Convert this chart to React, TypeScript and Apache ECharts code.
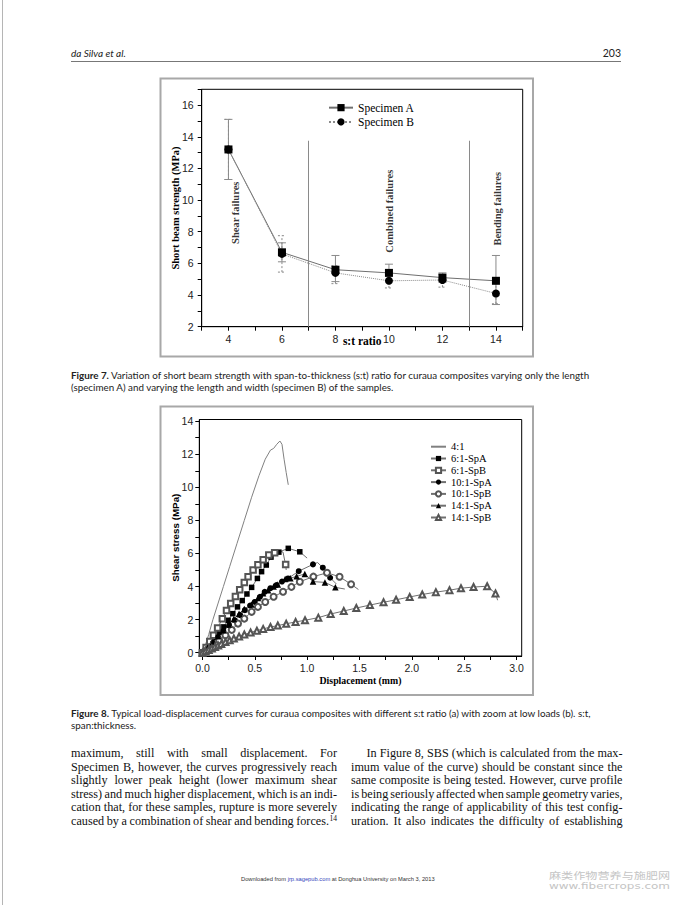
import React, { useEffect, useRef } from 'react';
import * as echarts from 'echarts';

// ---------- Figure 7 data ----------
const fig7Ratios = [4, 6, 8, 10, 12, 14];
const fig7SpecimenA = [13.2, 6.7, 5.6, 5.4, 5.1, 4.9];
const fig7SpecimenB = [13.2, 6.6, 5.4, 4.9, 4.95, 4.1];
const fig7ErrALow = [11.3, 6.1, 4.85, 4.9, 4.8, 3.4];
const fig7ErrAHigh = [15.1, 7.3, 6.5, 5.95, 5.4, 6.5];
const fig7ErrBLow = [11.3, 5.45, 4.72, 4.45, 4.5, 3.45];
const fig7ErrBHigh = [15.1, 7.75, 5.85, 5.4, 5.32, 4.8];
const fig7XTicks = [3, 4, 5, 6, 7, 8, 9, 10, 11, 12, 13, 14, 15];
const fig7XLabels = [4, 6, 8, 10, 12, 14];
const fig7YTicks = [2, 3, 4, 5, 6, 7, 8, 9, 10, 11, 12, 13, 14, 15, 16, 17];
const fig7YLabels = [2, 4, 6, 8, 10, 12, 14, 16];
const fig7Dividers = [7, 13];
const fig7Regions = ['Shear failures', 'Combined failures', 'Bending failures'];
const fig7Names = ['Specimen A', 'Specimen B'];

// ---------- Figure 8 data ----------
const fig8Names = ['4:1', '6:1-SpA', '6:1-SpB', '10:1-SpA', '10:1-SpB', '14:1-SpA', '14:1-SpB'];
const fig8Curve4 = [[0, 0], [0.03, 0.5], [0.06, 1.1], [0.1, 2.0], [0.15, 3.0], [0.2, 4.0], [0.26, 5.2], [0.33, 6.6], [0.4, 8.0], [0.47, 9.4], [0.54, 10.7], [0.6, 11.7], [0.65, 12.25], [0.68, 12.35], [0.71, 12.6], [0.74, 12.8], [0.76, 12.6], [0.78, 11.7], [0.8, 10.9], [0.82, 10.15]];
const fig8Curve6A = [[0, 0], [0.04, 0.28], [0.08, 0.6], [0.12, 0.92], [0.16, 1.24], [0.2, 1.56], [0.245, 1.96], [0.29, 2.36], [0.335, 2.77], [0.38, 3.15], [0.425, 3.55], [0.47, 3.95], [0.525, 4.49], [0.565, 4.9], [0.61, 5.3], [0.655, 5.78], [0.73, 6.08], [0.82, 6.31], [0.93, 6.1], [1.0, 5.72]];
const fig8Plain6A = [1.0];
const fig8Curve6B = [[0, 0], [0.035, 0.32], [0.07, 0.68], [0.105, 1.05], [0.145, 1.5], [0.19, 2.05], [0.23, 2.55], [0.27, 2.97], [0.315, 3.4], [0.356, 3.8], [0.4, 4.25], [0.436, 4.59], [0.484, 5.0], [0.53, 5.32], [0.58, 5.62], [0.634, 5.9], [0.69, 6.05], [0.75, 6.12], [0.77, 6.08], [0.785, 5.6], [0.795, 5.34], [0.8, 5.0]];
const fig8Plain6B = [0.75, 0.77, 0.785, 0.8];
const fig8Curve10A = [[0, 0], [0.05, 0.25], [0.1, 0.6], [0.15, 0.95], [0.2, 1.3], [0.255, 1.65], [0.31, 1.96], [0.36, 2.27], [0.405, 2.57], [0.455, 2.85], [0.5, 3.07], [0.55, 3.38], [0.595, 3.68], [0.65, 3.9], [0.707, 4.09], [0.76, 4.3], [0.818, 4.49], [0.92, 4.93], [1.056, 5.34], [1.1, 5.45], [1.15, 5.14], [1.22, 4.53], [1.28, 4.15]];
const fig8Plain10A = [1.1, 1.28];
const fig8Curve10B = [[0, 0], [0.05, 0.2], [0.1, 0.45], [0.16, 0.75], [0.22, 1.05], [0.28, 1.38], [0.34, 1.76], [0.4, 2.06], [0.47, 2.47], [0.53, 2.77], [0.6, 3.07], [0.68, 3.38], [0.77, 3.68], [0.85, 3.98], [0.93, 4.29], [1.06, 4.6], [1.19, 4.83], [1.31, 4.59], [1.42, 4.14], [1.49, 3.82]];
const fig8Plain10B = [1.49];
const fig8Curve14A = [[0, 0], [0.05, 0.3], [0.1, 0.65], [0.15, 1.0], [0.2, 1.35], [0.25, 1.7], [0.3, 2.03], [0.35, 2.36], [0.4, 2.64], [0.468, 2.91], [0.53, 3.3], [0.58, 3.6], [0.627, 3.78], [0.68, 4.0], [0.72, 4.12], [0.79, 4.45], [0.84, 4.5], [0.9, 4.62], [0.978, 4.76], [1.056, 4.3], [1.17, 4.25], [1.27, 3.95], [1.36, 3.85]];
const fig8Plain14A = [1.36];
const fig8Curve14B = [[0, 0], [0.03, 0.08], [0.06, 0.17], [0.09, 0.26], [0.12, 0.35], [0.15, 0.44], [0.18, 0.53], [0.22, 0.64], [0.26, 0.75], [0.3, 0.86], [0.35, 0.98], [0.4, 1.1], [0.46, 1.22], [0.52, 1.33], [0.58, 1.44], [0.65, 1.55], [0.72, 1.64], [0.8, 1.75], [0.89, 1.86], [0.98, 1.96], [1.107, 2.12], [1.225, 2.34], [1.35, 2.52], [1.47, 2.7], [1.6, 2.88], [1.73, 3.05], [1.85, 3.2], [1.98, 3.37], [2.1, 3.52], [2.23, 3.66], [2.36, 3.78], [2.47, 3.9], [2.59, 3.97], [2.72, 4.02], [2.8, 3.58], [2.82, 3.17]];
const fig8Plain14B = [2.82];
const fig8XTicks = [0, 0.25, 0.5, 0.75, 1, 1.25, 1.5, 1.75, 2, 2.25, 2.5, 2.75, 3];
const fig8XLabels = [0, 0.5, 1, 1.5, 2, 2.5, 3];
const fig8YTicks = [0, 1, 2, 3, 4, 5, 6, 7, 8, 9, 10, 11, 12, 13, 14];
const fig8YLabels = [0, 2, 4, 6, 8, 10, 12, 14];

// ---------- Page texts ----------
const headerLeft = 'da Silva et al.';
const headerRight = '203';
const fig7CaptionLead = 'Figure 7.';
const fig7CaptionLines = [
  ' Variation of short beam strength with span-to-thickness (s:t) ratio for curaua composites varying only the length',
  '(specimen A) and varying the length and width (specimen B) of the samples.',
];
const fig8CaptionLead = 'Figure 8.';
const fig8CaptionLines = [
  ' Typical load-displacement curves for curaua composites with different s:t ratio (a) with zoom at low loads (b). s:t,',
  'span:thickness.',
];
const bodyLeft = [
  'maximum, still with small displacement. For',
  'Specimen B, however, the curves progressively reach',
  'slightly lower peak height (lower maximum shear',
  'stress) and much higher displacement, which is an indi-',
  'cation that, for these samples, rupture is more severely',
  'caused by a combination of shear and bending forces.',
];
const bodyLeftSup = '14';
const bodyRight = [
  'In Figure 8, SBS (which is calculated from the max-',
  'imum value of the curve) should be constant since the',
  'same composite is being tested. However, curve profile',
  'is being seriously affected when sample geometry varies,',
  'indicating the range of applicability of this test config-',
  'uration. It also indicates the difficulty of establishing',
];
const footerParts = ['Downloaded from ', 'jrp.sagepub.com', ' at Donghua University on March 3, 2013'];
const watermarkLines = ['麻类作物营养与施肥网', 'www.fibercrops.com'];

const SERIF = 'Liberation Serif';
const SANS = 'Liberation Sans';
const CAP = 'Lato';

function buildOption() {
  const canvas = document.createElement('canvas');
  const ctx = canvas.getContext('2d') as CanvasRenderingContext2D;
  const tw = (t: string, size: number, fam: string, weight = 'normal', style = 'normal') => {
    ctx.font = `${style} ${weight} ${size}px ${fam}`;
    return ctx.measureText(t).width;
  };

  const els: any[] = [];
  // page left border
  els.push({ type: 'line', shape: { x1: 2.5, y1: 0, x2: 2.5, y2: 905 }, style: { stroke: '#b5b5b5', lineWidth: 1 } });
  // header
  els.push({ type: 'text', x: 71, y: 53, style: { text: headerLeft, fontSize: 10, fontFamily: CAP, fontStyle: 'italic', fill: '#222', align: 'left', verticalAlign: 'middle' } });
  els.push({ type: 'text', x: 621, y: 53, style: { text: headerRight, fontSize: 10.5, fontFamily: CAP, fill: '#222', align: 'right', verticalAlign: 'middle' } });
  els.push({ type: 'line', shape: { x1: 71, y1: 61.5, x2: 621, y2: 61.5 }, style: { stroke: '#777', lineWidth: 1 } });
  // figure frames
  els.push({ type: 'rect', shape: { x: 160.5, y: 78.5, width: 372.5, height: 278 }, style: { fill: 'none', stroke: '#a8a8a8', lineWidth: 2 } });
  els.push({ type: 'rect', shape: { x: 160.5, y: 406.5, width: 372.5, height: 288.5 }, style: { fill: 'none', stroke: '#a8a8a8', lineWidth: 2 } });

  // captions
  const caption = (lead: string, lines: string[], target: number, ys: number[]) => {
    const w = tw(lead, 10, CAP, 'bold') + tw(lines[0], 10, CAP);
    const size = (10 * target) / w;
    els.push({
      type: 'text', x: 71, y: ys[0],
      style: {
        text: `{b|${lead}}{r|${lines[0]}}`, align: 'left', verticalAlign: 'middle',
        rich: { b: { fontSize: size, fontFamily: CAP, fontWeight: 'bold', fill: '#222' }, r: { fontSize: size, fontFamily: CAP, fill: '#222' } },
      },
    });
    els.push({ type: 'text', x: 71, y: ys[1], style: { text: lines[1], fontSize: size, fontFamily: CAP, fill: '#222', align: 'left', verticalAlign: 'middle' } });
  };
  caption(fig7CaptionLead, fig7CaptionLines, 520, [375, 386.5]);
  caption(fig8CaptionLead, fig8CaptionLines, 521, [713, 725]);

  // body text, justified
  const BODY = 12.2;
  const SUP = 7.5;
  const justify = (line: string, x0: number, x1: number, y: number, sup?: string) => {
    const words = line.split(' ');
    const widths = words.map((w) => tw(w, BODY, SERIF));
    const supW = sup ? tw(sup, SUP, SERIF) + 0.5 : 0;
    const total = widths.reduce((a, b) => a + b, 0) + supW;
    const gap = (x1 - x0 - total) / (words.length - 1);
    let x = x0;
    words.forEach((w, i) => {
      els.push({ type: 'text', x, y, style: { text: w, fontSize: BODY, fontFamily: SERIF, fill: '#111', align: 'left', verticalAlign: 'middle' } });
      x += widths[i] + (i < words.length - 1 ? gap : 0);
    });
    if (sup) {
      els.push({ type: 'text', x: x + 0.5, y: y - 3, style: { text: sup, fontSize: SUP, fontFamily: SERIF, fill: '#111', align: 'left', verticalAlign: 'middle' } });
    }
  };
  const bodyYs = [753, 766.6, 780.2, 793.8, 807.4, 821];
  bodyLeft.forEach((l, i) => justify(l, 71, 337, bodyYs[i], i === bodyLeft.length - 1 ? bodyLeftSup : undefined));
  bodyRight.forEach((l, i) => justify(l, i === 0 ? 366.5 : 351, 622.5, bodyYs[i]));

  // footer
  const fw = tw(footerParts.join(''), 10, SANS);
  const fs = (10 * 194) / fw;
  els.push({
    type: 'text', x: 241, y: 879,
    style: {
      text: `{a|${footerParts[0]}}{l|${footerParts[1]}}{a|${footerParts[2]}}`, align: 'left', verticalAlign: 'middle',
      rich: { a: { fontSize: fs, fontFamily: SANS, fill: '#333' }, l: { fontSize: fs, fontFamily: SANS, fill: '#3344bb' } },
    },
  });
  // watermark (stretched horizontally, as in the reference)
  const WM = 9.2;
  const cjkScale = 121 / tw(watermarkLines[0], WM, 'Noto Sans CJK SC');
  const wwwScale = 121 / tw(watermarkLines[1], WM, 'DejaVu Sans');
  els.push({ type: 'text', x: 549, y: 875, scaleX: cjkScale, style: { text: watermarkLines[0], fontSize: WM, fontFamily: 'Noto Sans CJK SC', fill: '#c4c4c4', align: 'left', verticalAlign: 'middle' } });
  els.push({ type: 'text', x: 549, y: 885.5, scaleX: wwwScale, style: { text: watermarkLines[1], fontSize: WM, fontFamily: 'DejaVu Sans', fill: '#c4c4c4', align: 'left', verticalAlign: 'middle' } });

  const errRender = (dash: number[] | null) => (params: any, api: any) => {
    const x = api.value(0);
    const lo = api.coord([x, api.value(1)]);
    const hi = api.coord([x, api.value(2)]);
    const w = 4;
    const st = { stroke: '#8a8a8a', lineWidth: 1, lineDash: dash || undefined };
    return {
      type: 'group',
      children: [
        { type: 'line', shape: { x1: lo[0], y1: lo[1], x2: hi[0], y2: hi[1] }, style: st },
        { type: 'line', shape: { x1: lo[0] - w, y1: lo[1], x2: lo[0] + w, y2: lo[1] }, style: st },
        { type: 'line', shape: { x1: hi[0] - w, y1: hi[1], x2: hi[0] + w, y2: hi[1] }, style: st },
      ],
    };
  };

  const axisCommon = {
    type: 'value',
    splitLine: { show: false },
    axisLine: { show: true, onZero: false, lineStyle: { color: '#000', width: 1 } },
    nameMoveOverlap: false,
  };

  const curve = (name: string, pts: number[][], plain: number[], symbol: string, size: number, color: string) => ({
    name, type: 'line', xAxisIndex: 1, yAxisIndex: 1,
    data: pts.map((p) => (plain.indexOf(p[0]) >= 0 ? { value: p, symbol: 'none' } : { value: p })),
    symbol, symbolSize: size, showSymbol: true, showAllSymbol: true,
    lineStyle: { color: '#707070', width: 1 },
    itemStyle: { color, borderWidth: 0.8 },
    z: 3, silent: true,
  });

  return {
    animation: false,
    backgroundColor: '#ffffff',
    textStyle: { fontFamily: SANS },
    grid: [
      { left: 201.7, top: 89.3, width: 321, height: 237.4, show: true, borderColor: '#000', borderWidth: 1, backgroundColor: 'transparent', containLabel: false, outerBoundsMode: 'none' },
      { left: 199.3, top: 419.5, width: 322.4, height: 236.5, show: true, borderColor: '#000', borderWidth: 1, backgroundColor: 'transparent', containLabel: false, outerBoundsMode: 'none' },
    ],
    xAxis: [
      {
        ...axisCommon, gridIndex: 0, min: 3, max: 15,
        axisTick: { show: true, customValues: fig7XTicks, length: 4, lineStyle: { color: '#000' } },
        axisLabel: { customValues: fig7XLabels, fontSize: 10.5, fontFamily: SANS, color: '#222', margin: 7 },
        name: 's:t ratio', nameLocation: 'middle', nameGap: 8,
        nameTextStyle: { fontFamily: SERIF, fontWeight: 'bold', fontSize: 11.5, color: '#000' },
      },
      {
        ...axisCommon, gridIndex: 1, min: -0.03, max: 3.05,
        axisTick: { show: true, customValues: fig8XTicks, length: 4, lineStyle: { color: '#000' } },
        axisLabel: { customValues: fig8XLabels, fontSize: 10.5, fontFamily: SANS, color: '#222', margin: 6, formatter: (v: number) => v.toFixed(1) },
        name: 'Displacement (mm)', nameLocation: 'middle', nameGap: 19,
        nameTextStyle: { fontFamily: SERIF, fontWeight: 'bold', fontSize: 9.8, color: '#000' },
      },
    ],
    yAxis: [
      {
        ...axisCommon, gridIndex: 0, min: 2, max: 17,
        axisTick: { show: true, customValues: fig7YTicks, length: 4, lineStyle: { color: '#000' } },
        axisLabel: { customValues: fig7YLabels, fontSize: 10.5, fontFamily: SANS, color: '#222', margin: 8 },
        name: 'Short beam strength (MPa)', nameLocation: 'middle', nameGap: 21,
        nameTextStyle: { fontFamily: SERIF, fontWeight: 'bold', fontSize: 10.5, color: '#000' },
      },
      {
        ...axisCommon, gridIndex: 1, min: -0.2, max: 14.1,
        axisTick: { show: true, customValues: fig8YTicks, length: 4, lineStyle: { color: '#000' } },
        axisLabel: { customValues: fig8YLabels, fontSize: 10.5, fontFamily: SANS, color: '#222', margin: 6 },
        name: 'Shear stress (MPa)', nameLocation: 'middle', nameGap: 19,
        nameTextStyle: { fontFamily: SANS, fontWeight: 'bold', fontSize: 9.8, color: '#000' },
      },
    ],
    legend: [
      {
        data: fig7Names, left: 328, top: 100.5, orient: 'vertical', itemWidth: 24, itemHeight: 9, itemGap: 0, padding: 0,
        selectedMode: false, textStyle: { fontFamily: SERIF, fontSize: 11.5, color: '#000', lineHeight: 14.3 },
      },
      {
        data: fig8Names.map((n, i) => (i === 0 ? { name: n, itemStyle: { opacity: 0 } } : { name: n })),
        left: 430, top: 440.8, orient: 'vertical', itemWidth: 15, itemHeight: 6.5, itemGap: 0, padding: 0,
        selectedMode: false, textStyle: { fontFamily: SERIF, fontSize: 10.5, color: '#000', lineHeight: 11.8 },
      },
    ],
    graphic: { elements: els },
    series: [
      {
        type: 'custom', name: 'errA', xAxisIndex: 0, yAxisIndex: 0, z: 2, silent: true,
        renderItem: errRender(null), encode: { x: 0, y: [1, 2] },
        data: fig7Ratios.map((x, i) => [x, fig7ErrALow[i], fig7ErrAHigh[i]]),
      },
      {
        type: 'custom', name: 'errB', xAxisIndex: 0, yAxisIndex: 0, z: 2, silent: true,
        renderItem: errRender([2, 2]), encode: { x: 0, y: [1, 2] },
        data: fig7Ratios.map((x, i) => [x, fig7ErrBLow[i], fig7ErrBHigh[i]]),
      },
      {
        name: fig7Names[0], type: 'line', xAxisIndex: 0, yAxisIndex: 0, z: 3, silent: true,
        data: fig7Ratios.map((x, i) => [x, fig7SpecimenA[i]]),
        symbol: 'rect', symbolSize: 8, itemStyle: { color: '#000' },
        lineStyle: { color: '#6f6f6f', width: 1 },
        markLine: {
          silent: true, symbol: ['none', 'none'], label: { show: false },
          lineStyle: { color: '#8a8a8a', type: 'solid', width: 1 },
          data: fig7Dividers.map((x) => [{ coord: [x, 2] }, { coord: [x, 13.75] }]),
        },
      },
      {
        name: fig7Names[1], type: 'line', xAxisIndex: 0, yAxisIndex: 0, z: 3, silent: true,
        data: fig7Ratios.map((x, i) => [x, fig7SpecimenB[i]]),
        symbol: 'circle', symbolSize: 8, itemStyle: { color: '#000' },
        lineStyle: { color: '#8a8a8a', width: 1, type: 'dotted' },
      },
      {
        type: 'scatter', name: 'regions', xAxisIndex: 0, yAxisIndex: 0, z: 4, silent: true,
        symbolSize: 1, itemStyle: { color: 'rgba(0,0,0,0)' },
        data: [
          { value: [4.25, 9.2], name: fig7Regions[0] },
          { value: [10.03, 9.3], name: fig7Regions[1] },
          { value: [14.04, 9.45], name: fig7Regions[2] },
        ],
        label: { show: true, formatter: '{b}', rotate: 90, position: 'inside', fontFamily: SERIF, fontWeight: 'bold', fontSize: 10.5, color: '#000' },
      },
      {
        name: fig8Names[0], type: 'line', xAxisIndex: 1, yAxisIndex: 1, z: 3, silent: true,
        data: fig8Curve4, showSymbol: false, symbol: 'none',
        lineStyle: { color: '#808080', width: 1 }, itemStyle: { color: '#808080' },
      },
      curve(fig8Names[1], fig8Curve6A, fig8Plain6A, 'rect', 5.5, '#000'),
      curve(fig8Names[2], fig8Curve6B, fig8Plain6B, 'emptyRect', 5.5, '#555'),
      curve(fig8Names[3], fig8Curve10A, fig8Plain10A, 'circle', 6, '#000'),
      curve(fig8Names[4], fig8Curve10B, fig8Plain10B, 'emptyCircle', 6, '#555'),
      curve(fig8Names[5], fig8Curve14A, fig8Plain14A, 'triangle', 6.5, '#000'),
      curve(fig8Names[6], fig8Curve14B, fig8Plain14B, 'emptyTriangle', 6, '#555'),
    ],
  };
}

export default function App() {
  const ref = useRef<HTMLDivElement>(null);
  useEffect(() => {
    if (!ref.current) return;
    const chart = echarts.init(ref.current, null, { renderer: 'svg', width: 678, height: 905 });
    chart.setOption(buildOption() as any);
    return () => chart.dispose();
  }, []);
  return (
    <div
      ref={ref}
      style={{ position: 'absolute', left: 0, top: 0, width: 678, height: 905, background: '#fff' }}
    />
  );
}
